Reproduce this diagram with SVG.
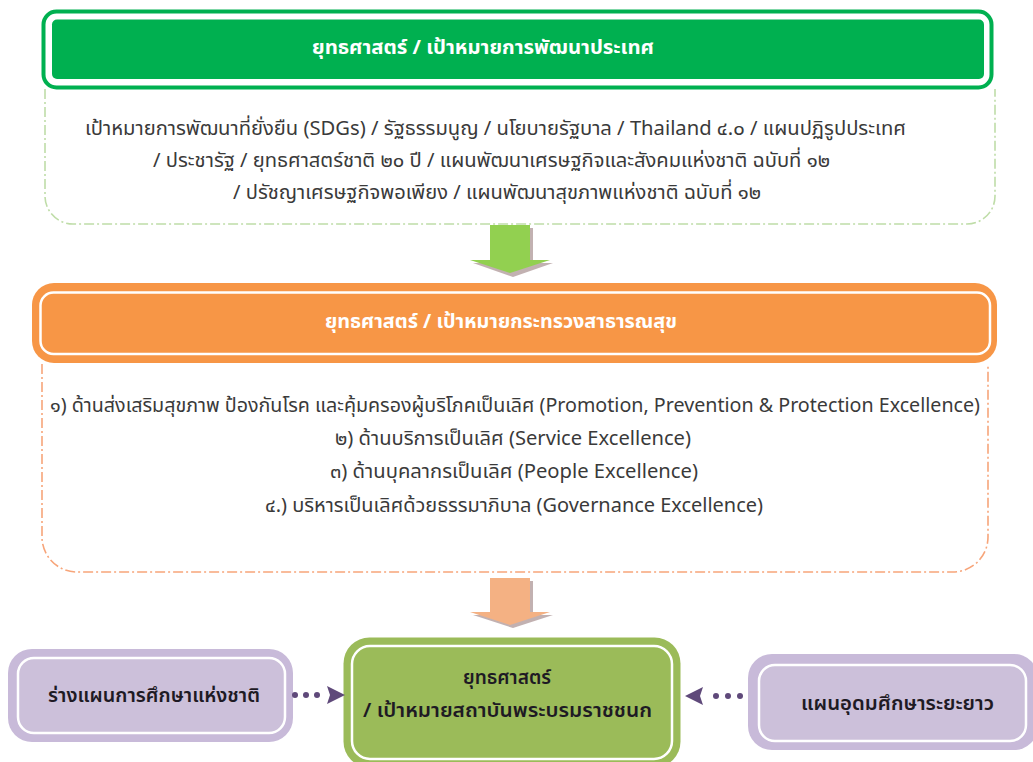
<svg xmlns="http://www.w3.org/2000/svg" width="1033" height="762" viewBox="0 0 1033 762">
<defs>
<style>
.t{font-family:"Noto Sans","Noto Sans Thai","DejaVu Sans",sans-serif;}
.body{font-size:19.5px;fill:#3a3a3a;text-anchor:middle;}
.title{font-size:20px;font-weight:bold;fill:#ffffff;text-anchor:middle;}
.box{font-size:20px;font-weight:600;fill:#1e1a24;text-anchor:middle;}
.dashG{fill:none;stroke:#BFDDA8;stroke-width:1.6;stroke-dasharray:10 3 2 3;}
.dashO{fill:none;stroke:#F7A57A;stroke-width:1.6;stroke-dasharray:10 3 2 3;}
.conn{fill:#5F497A;}
</style>
</defs>
<rect x="0" y="0" width="1033" height="762" fill="#ffffff"/>

<g id="node-national">
<path class="dashG" d="M45,89 V196 A28,28 0 0 0 73,224 H967 A28,28 0 0 0 995,196 V89"/>
<rect x="43.5" y="11.5" width="948" height="76" rx="13" fill="#ffffff" stroke="#00B050" stroke-width="4"/>
<rect x="52" y="19.5" width="932" height="59.5" rx="5" fill="#00B050"/>
<text class="t title" x="483" y="54" textLength="342" lengthAdjust="spacingAndGlyphs">ยุทธศาสตร์ / เป้าหมายการพัฒนาประเทศ</text>
<text class="t body" x="495.5" y="135" textLength="821" lengthAdjust="spacingAndGlyphs">เป้าหมายการพัฒนาที่ยั่งยืน (SDGs) / รัฐธรรมนูญ / นโยบายรัฐบาล / Thailand ๔.๐ / แผนปฏิรูปประเทศ</text>
<text class="t body" x="491.5" y="167" textLength="677" lengthAdjust="spacingAndGlyphs">/ ประชารัฐ / ยุทธศาสตร์ชาติ ๒๐ ปี / แผนพัฒนาเศรษฐกิจและสังคมแห่งชาติ ฉบับที่ ๑๒</text>
<text class="t body" x="497" y="199" textLength="528" lengthAdjust="spacingAndGlyphs">/ ปรัชญาเศรษฐกิจพอเพียง / แผนพัฒนาสุขภาพแห่งชาติ ฉบับที่ ๑๒</text>
</g>

<g id="arrow-green">
<polygon points="493,228 533,228 533,263 553,263 513,277 473,263 493,263" fill="#A89090" opacity="0.7"/>
<polygon points="490,225 530,225 530,260 550,260 510,273 470,260 490,260" fill="#92D050"/>
</g>

<g id="node-ministry">
<path class="dashO" d="M42,364 V537 A35,35 0 0 0 77,572 H953 A35,35 0 0 0 988,537 V364"/>
<rect x="32" y="283" width="965" height="80" rx="22" fill="#F79646"/>
<rect x="40.5" y="292.5" width="949.5" height="61.5" rx="13" fill="none" stroke="#ffffff" stroke-width="2.5"/>
<text class="t title" x="501" y="328" textLength="352" lengthAdjust="spacingAndGlyphs">ยุทธศาสตร์ / เป้าหมายกระทรวงสาธารณสุข</text>
<text class="t body" x="515" y="412" textLength="930" lengthAdjust="spacingAndGlyphs">๑) ด้านส่งเสริมสุขภาพ ป้องกันโรค และคุ้มครองผู้บริโภคเป็นเลิศ (Promotion, Prevention &amp; Protection Excellence)</text>
<text class="t body" x="513" y="445" textLength="356" lengthAdjust="spacingAndGlyphs">๒) ด้านบริการเป็นเลิศ (Service Excellence)</text>
<text class="t body" x="514" y="478" textLength="368" lengthAdjust="spacingAndGlyphs">๓) ด้านบุคลากรเป็นเลิศ (People Excellence)</text>
<text class="t body" x="514" y="512" textLength="498" lengthAdjust="spacingAndGlyphs">๔.) บริหารเป็นเลิศด้วยธรรมาภิบาล (Governance Excellence)</text>
</g>

<g id="arrow-orange">
<polygon points="493,581 533,581 533,615 553,615 513,628 473,615 493,615" fill="#A89090" opacity="0.7"/>
<polygon points="490,578 530,578 530,612 550,612 510,625 470,612 490,612" fill="#F4B183"/>
</g>

<g id="node-institute">
<rect x="343.5" y="637.5" width="337" height="130" rx="26" fill="#9BBB59"/>
<rect x="352" y="646" width="320" height="113" rx="18" fill="none" stroke="#ffffff" stroke-width="2.5"/>
<text class="t box" x="507" y="684" textLength="88" lengthAdjust="spacingAndGlyphs">ยุทธศาสตร์</text>
<text class="t box" x="507.5" y="717" textLength="289" lengthAdjust="spacingAndGlyphs">/ เป้าหมายสถาบันพระบรมราชชนก</text>
</g>

<g id="node-education">
<rect x="8" y="649" width="285" height="93" rx="24" fill="#C8BAD9"/>
<rect x="18" y="658" width="267" height="75" rx="16" fill="#CCC0DA" stroke="#ffffff" stroke-width="2.5"/>
<text class="t box" x="154" y="702" textLength="212" lengthAdjust="spacingAndGlyphs">ร่างแผนการศึกษาแห่งชาติ</text>
</g>

<g id="node-higher">
<rect x="748" y="654" width="290" height="96" rx="24" fill="#C8BAD9"/>
<rect x="759" y="665" width="267" height="76" rx="16" fill="#CCC0DA" stroke="#ffffff" stroke-width="2.5"/>
<text class="t box" x="897.5" y="710" textLength="193" lengthAdjust="spacingAndGlyphs">แผนอุดมศึกษาระยะยาว</text>
</g>

<g id="connectors">
<circle class="conn" cx="295" cy="695" r="3"/>
<circle class="conn" cx="306" cy="695" r="3"/>
<circle class="conn" cx="317" cy="695" r="3"/>
<polygon class="conn" points="327,686 345,695 327,704 330,695"/>
<circle class="conn" cx="716" cy="696" r="3"/>
<circle class="conn" cx="728" cy="696" r="3"/>
<circle class="conn" cx="740" cy="696" r="3"/>
<polygon class="conn" points="703,687 685,696 703,705 700,696"/>
</g>
</svg>
